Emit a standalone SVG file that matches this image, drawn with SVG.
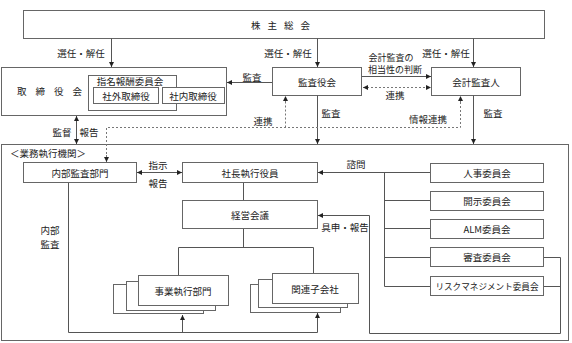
<svg xmlns="http://www.w3.org/2000/svg" width="572" height="343" viewBox="0 0 572 343">
<defs>
<style>
text{font-family:"Noto Sans CJK JP","Noto Sans",sans-serif;font-size:9.5px;fill:#222;text-anchor:middle;dominant-baseline:central}
.box{fill:#fff;stroke:#666;stroke-width:1}
.ln{fill:none;stroke:#555;stroke-width:1}
.ds{fill:none;stroke:#777;stroke-width:1;stroke-dasharray:2,2}
</style>
<marker id="ah" viewBox="0 0 6 6" refX="6" refY="3" markerWidth="5" markerHeight="5" orient="auto-start-reverse" markerUnits="userSpaceOnUse">
<path d="M0,0 L6,3 L0,6 z" fill="#222"/>
</marker>
</defs>
<rect width="572" height="343" fill="#fff"/>
<g id="gyomu">
<rect class="box" x="1.5" y="144.5" width="567" height="196"/>
<text x="10" y="153" style="text-anchor:start">＜業務執行機関＞</text>
</g>
<g id="kabunushi">
<rect class="box" x="23.5" y="10.5" width="521" height="28"/>
<text x="284" y="25" style="letter-spacing:7px">株主総会</text>
</g>
<g id="torishimariyaku">
<rect class="box" x="1.5" y="67.5" width="225" height="48"/>
<text x="54" y="91" style="letter-spacing:9px">取締役会</text>
<rect class="box" x="88.5" y="75.5" width="88" height="35"/>
<text x="130" y="81">指名報酬委員会</text>
<rect class="box" x="93.5" y="87.5" width="65" height="16"/>
<text x="126" y="95.5">社外取締役</text>
<rect class="box" x="162.5" y="87.5" width="62" height="16"/>
<text x="193" y="95.5">社内取締役</text>
</g>
<g id="kansayakukai">
<rect class="box" x="272.5" y="67.5" width="89" height="28"/>
<text x="317" y="81.5">監査役会</text>
</g>
<g id="kaikeikansanin">
<rect class="box" x="431.5" y="67.5" width="89" height="28"/>
<text x="476" y="81.5">会計監査人</text>
</g>
<g id="naibukansa">
<rect class="box" x="23.5" y="162.5" width="113" height="20"/>
<text x="80" y="172.5">内部監査部門</text>
</g>
<g id="shacho">
<rect class="box" x="182.5" y="162.5" width="135" height="20"/>
<text x="250" y="172.5">社長執行役員</text>
</g>
<g id="keiei">
<rect class="box" x="182.5" y="200.5" width="135" height="28"/>
<text x="250" y="214.5">経営会議</text>
</g>
<g id="jigyo">
<rect class="box" x="113.5" y="284.5" width="90" height="29"/>
<rect class="box" x="126.5" y="281.5" width="89" height="29"/>
<rect class="box" x="138.5" y="275.5" width="90" height="30"/>
<text x="183" y="290.5">事業執行部門</text>
</g>
<g id="kanren">
<rect class="box" x="250.5" y="284.5" width="90" height="28"/>
<rect class="box" x="258.5" y="279.5" width="89" height="28"/>
<rect class="box" x="272.5" y="273.5" width="86" height="30"/>
<text x="315" y="288.5">関連子会社</text>
</g>
<g id="jinji">
<rect class="box" x="430.5" y="163.5" width="113" height="19"/>
<text x="487" y="173">人事委員会</text>
</g>
<g id="kaiji">
<rect class="box" x="430.5" y="191.5" width="113" height="19"/>
<text x="487" y="201">開示委員会</text>
</g>
<g id="alm">
<rect class="box" x="430.5" y="219.5" width="113" height="19"/>
<text x="487" y="229">ALM委員会</text>
</g>
<g id="shinsa">
<rect class="box" x="430.5" y="247.5" width="113" height="19"/>
<text x="487" y="257">審査委員会</text>
</g>
<g id="risk">
<rect class="box" x="430.5" y="276.5" width="113" height="19"/>
<text x="487" y="286" style="font-size:8.6px">リスクマネジメント委員会</text>
</g>
<g id="connectors">
<line class="ln" x1="111.5" y1="38.5" x2="111.5" y2="67" marker-end="url(#ah)"/>
<text x="81" y="53">選任・解任</text>
<line class="ln" x1="317.5" y1="38.5" x2="317.5" y2="67" marker-end="url(#ah)"/>
<text x="288" y="53">選任・解任</text>
<line class="ln" x1="473.5" y1="38.5" x2="473.5" y2="67" marker-end="url(#ah)"/>
<text x="446" y="53">選任・解任</text>
<line class="ln" x1="272" y1="82.5" x2="227" y2="82.5" marker-end="url(#ah)"/>
<text x="252" y="77">監査</text>
<line class="ln" x1="362" y1="76.5" x2="431" y2="76.5" marker-end="url(#ah)"/>
<text x="391" y="57" style="font-size:9px">会計監査の</text>
<text x="395" y="69.5" style="font-size:9px">相当性の判断</text>
<line class="ds" x1="363" y1="87.5" x2="431" y2="87.5" marker-start="url(#ah)" marker-end="url(#ah)"/>
<text x="395" y="95">連携</text>
<line class="ln" x1="317.5" y1="95.5" x2="317.5" y2="144" marker-end="url(#ah)"/>
<text x="331" y="113">監査</text>
<line class="ln" x1="473.5" y1="95.5" x2="473.5" y2="144" marker-end="url(#ah)"/>
<text x="493" y="113">監査</text>
<path class="ds" d="M106.5,162 V127.5 H460.5 V96"/>
<path class="ds" d="M285.5,127.5 V96"/>
<line class="ds" x1="106.5" y1="155" x2="106.5" y2="162" marker-end="url(#ah)"/>
<line class="ds" x1="285.5" y1="103" x2="285.5" y2="96" marker-end="url(#ah)"/>
<line class="ds" x1="460.5" y1="103" x2="460.5" y2="96" marker-end="url(#ah)"/>
<text x="263" y="121">連携</text>
<text x="428" y="119">情報連携</text>
<line class="ln" x1="76.5" y1="116" x2="76.5" y2="144" marker-start="url(#ah)" marker-end="url(#ah)"/>
<text x="62" y="132">監督</text>
<text x="89" y="132">報告</text>
<line class="ln" x1="137" y1="172.5" x2="182" y2="172.5" marker-start="url(#ah)" marker-end="url(#ah)"/>
<text x="158" y="165">指示</text>
<text x="158" y="183">報告</text>
<line class="ln" x1="243.5" y1="183" x2="243.5" y2="200"/>
<path class="ln" d="M243.5,229 V247.5 M178.5,275 V247.5 H313.5 V273"/>
<path class="ln" d="M68.5,183 V332.5 H317.5"/>
<line class="ln" x1="182.5" y1="332.5" x2="182.5" y2="315" marker-end="url(#ah)"/>
<line class="ln" x1="317.5" y1="332.5" x2="317.5" y2="313" marker-end="url(#ah)"/>
<text x="50" y="230">内部</text>
<text x="50" y="243.5">監査</text>
<line class="ln" x1="430" y1="172.5" x2="318" y2="172.5" marker-end="url(#ah)"/>
<text x="356" y="164">諮問</text>
<path class="ln" d="M384.5,172.5 V286.5 M384.5,200.5 H430 M384.5,228.5 H430 M384.5,257.5 H430 M384.5,286.5 H430"/>
<path class="ln" d="M544,257.5 H560.5 M544,286.5 H560.5 M560.5,257.5 V333.5 H369.5 V215.5 H330"/>
<line class="ln" x1="330" y1="215.5" x2="318" y2="215.5" marker-end="url(#ah)"/>
<text x="345" y="227">具申・報告</text>
</g>
</svg>
